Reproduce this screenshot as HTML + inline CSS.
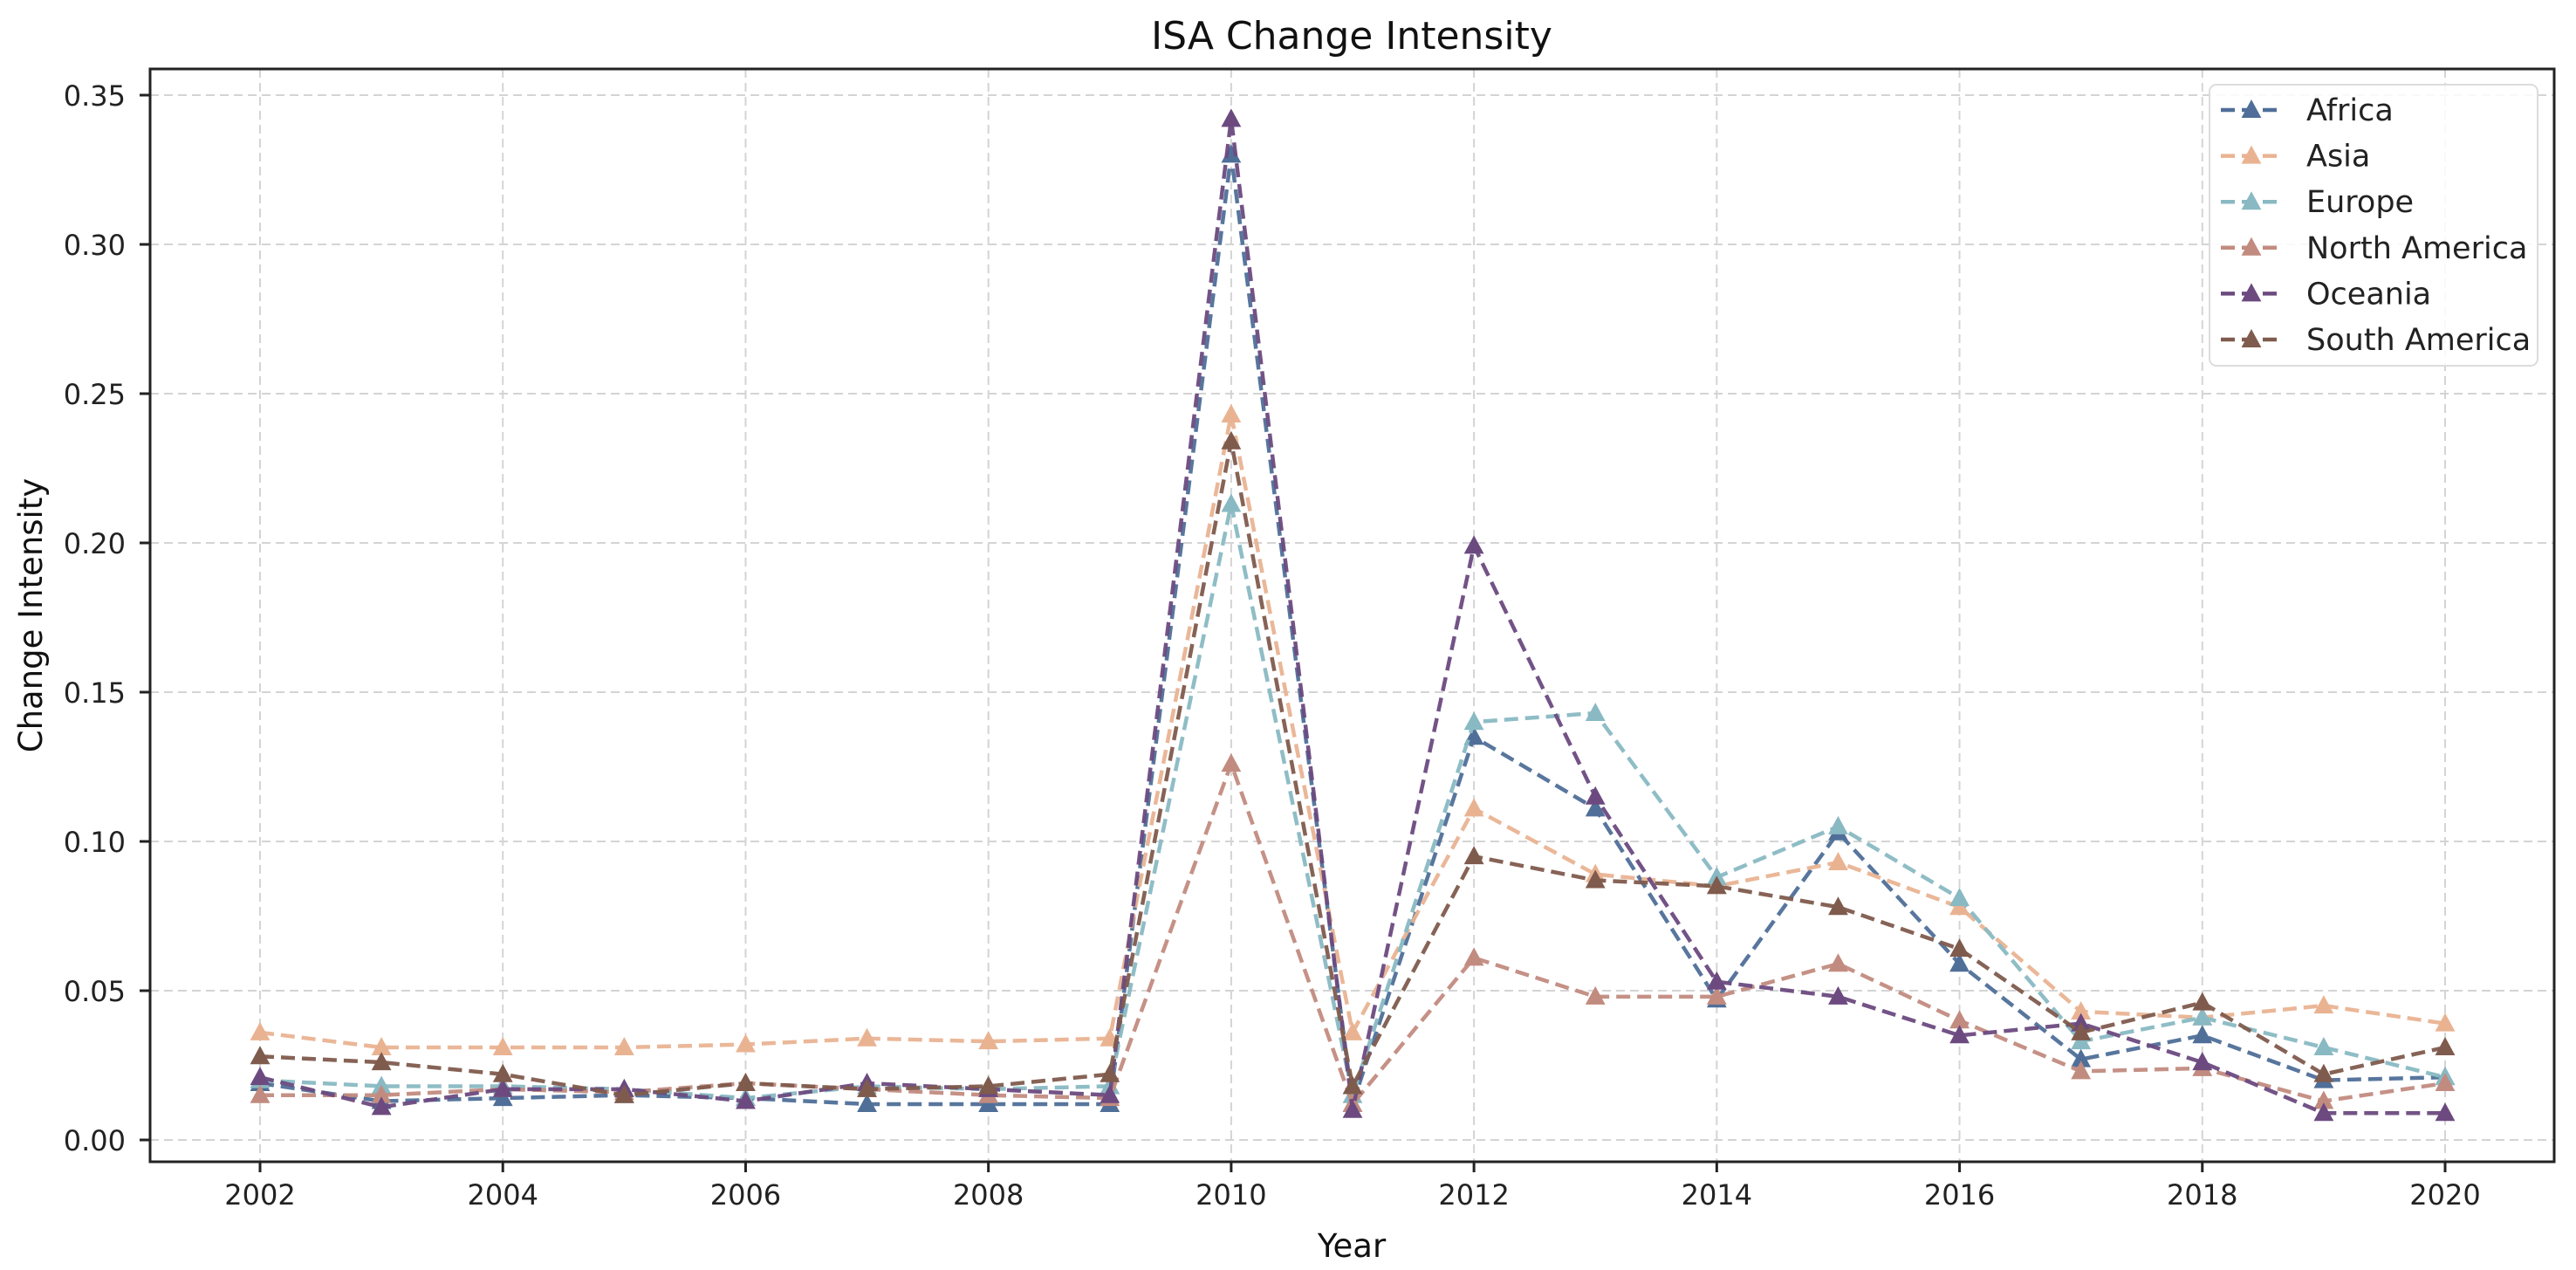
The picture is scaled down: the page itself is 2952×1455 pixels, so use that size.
<!DOCTYPE html>
<html><head><meta charset="utf-8"><style>
html,body{margin:0;padding:0;background:#fff;}
svg{display:block;font-family:"DejaVu Sans","Liberation Sans",sans-serif;}
</style></head>
<body>
<svg id="chart" width="2952" height="1455" viewBox="0 0 2952 1455" xmlns="http://www.w3.org/2000/svg">
<rect x="0" y="0" width="2952" height="1455" fill="#fff"/>
<text x="1549" y="56" font-size="44" text-anchor="middle" fill="#111">ISA Change Intensity</text>
<g id="grid"></g>
<g id="series"></g>
<rect x="172" y="79" width="2755" height="1252" fill="none" stroke="#222" stroke-width="3"/>
<g id="axes"></g>
<text x="1549" y="1440" font-size="37" text-anchor="middle" fill="#111">Year</text>
<text transform="translate(48,705) rotate(-90)" font-size="37" text-anchor="middle" fill="#111">Change Intensity</text>
<g id="legend"></g>
</svg>
<script>
const years = [2002,2003,2004,2005,2006,2007,2008,2009,2010,2011,2012,2013,2014,2015,2016,2017,2018,2019,2020];
const seriesNames = ["Africa","Asia","Europe","North America","Oceania","South America"];
const africa = [0.019,0.013,0.014,0.015,0.014,0.012,0.012,0.012,0.330,0.012,0.135,0.111,0.047,0.103,0.059,0.027,0.035,0.020,0.021];
const asia = [0.036,0.031,0.031,0.031,0.032,0.034,0.033,0.034,0.243,0.036,0.111,0.089,0.085,0.093,0.078,0.043,0.041,0.045,0.039];
const europe = [0.020,0.018,0.018,0.017,0.014,0.018,0.017,0.018,0.213,0.015,0.140,0.143,0.088,0.105,0.081,0.033,0.041,0.031,0.021];
const northAmerica = [0.015,0.015,0.017,0.016,0.019,0.017,0.015,0.014,0.126,0.012,0.061,0.048,0.048,0.059,0.040,0.023,0.024,0.013,0.019];
const oceania = [0.021,0.011,0.017,0.017,0.013,0.019,0.017,0.015,0.342,0.010,0.199,0.115,0.053,0.048,0.035,0.039,0.026,0.009,0.009];
const southAmerica = [0.028,0.026,0.022,0.015,0.019,0.017,0.018,0.022,0.234,0.018,0.095,0.087,0.085,0.078,0.064,0.036,0.046,0.022,0.031];
const yTicks = [0,0.05,0.10,0.15,0.20,0.25,0.30,0.35];
const yTickLabels = ["0.00","0.05","0.10","0.15","0.20","0.25","0.30","0.35"];
const xTicks = [2002,2004,2006,2008,2010,2012,2014,2016,2018,2020];

const NS = "http://www.w3.org/2000/svg";
const colors = ["#4f6f98","#e9b392","#89b9c3","#c28b7f","#6c4a80","#7f5b4d"];
const allSeries = [africa,asia,europe,northAmerica,oceania,southAmerica];
const X0 = 298, X1 = 2802, Y0 = 1306, Y1 = 109;
function xs(v){ return X0 + (v - 2002) / 18 * (X1 - X0); }
function ys(v){ return Y0 + v / 0.35 * (Y1 - Y0); }
function mk(tag, attrs, parent){ const e = document.createElementNS(NS, tag); for (const k in attrs) e.setAttribute(k, attrs[k]); parent.appendChild(e); return e; }
function tri(cx, cy, s){ return `${cx},${cy-s} ${cx-s*0.95},${cy+s*0.75} ${cx+s*0.95},${cy+s*0.75}`; }

const grid = document.getElementById('grid');
const axes = document.getElementById('axes');
yTicks.forEach((t,i) => {
  const y = ys(t);
  const g = mk('line', {x1:172, x2:2927, y1:y, y2:y, stroke:'#d4d4d4', 'stroke-width':2, 'stroke-dasharray':'10,6'}, grid);
  
  
  const tk = mk('line', {x1:160, x2:172, y1:y, y2:y, stroke:'#222', 'stroke-width':3}, axes);
  
  
  const tx = mk('text', {x:144, y:y+12, 'font-size':32, 'text-anchor':'end', fill:'#222'}, axes);
  tx.textContent = yTickLabels[i];
  
  
});
xTicks.forEach(t => {
  const x = xs(t);
  const g = mk('line', {x1:x, x2:x, y1:79, y2:1331, stroke:'#d4d4d4', 'stroke-width':2, 'stroke-dasharray':'10,6'}, grid);
  
  
  const tk = mk('line', {x1:x, x2:x, y1:1331, y2:1343, stroke:'#222', 'stroke-width':3}, axes);
  
  
  const tx = mk('text', {x:x, y:1380, 'font-size':32, 'text-anchor':'middle', fill:'#222'}, axes);
  tx.textContent = String(t);
  
  
});

const sg = document.getElementById('series');
allSeries.forEach((vals, si) => {
  const g = mk('g', {}, sg);
  
  
  const pts = vals.map((v,i) => xs(years[i]) + ',' + ys(v)).join(' ');
  const pl = mk('polyline', {points:pts, fill:'none', stroke:colors[si], 'stroke-width':4.5, 'stroke-dasharray':'16,8', opacity:0.95}, g);
  
  
  vals.forEach((v,i) => {
    const m = mk('polygon', {points:tri(xs(years[i]), ys(v), 12), fill:colors[si]}, g);
    
    
  });
});

const lg = document.getElementById('legend');
const box = mk('rect', {x:2532, y:97, width:376, height:322, rx:8, fill:'#fff', 'fill-opacity':0.85, stroke:'#dcdcdc', 'stroke-width':2}, lg);


seriesNames.forEach((n, i) => {
  const y = 126 + i * 52.6;
  const g = mk('g', {}, lg);
  
  
  mk('line', {x1:2545, x2:2612, y1:y, y2:y, stroke:colors[i], 'stroke-width':4.5, 'stroke-dasharray':'16,8'}, g);
  mk('polygon', {points:tri(2580, y, 12), fill:colors[i]}, g);
  const t = mk('text', {x:2643, y:y+12, 'font-size':35, fill:'#222'}, g);
  t.textContent = n;
});
</script>
</body></html>
